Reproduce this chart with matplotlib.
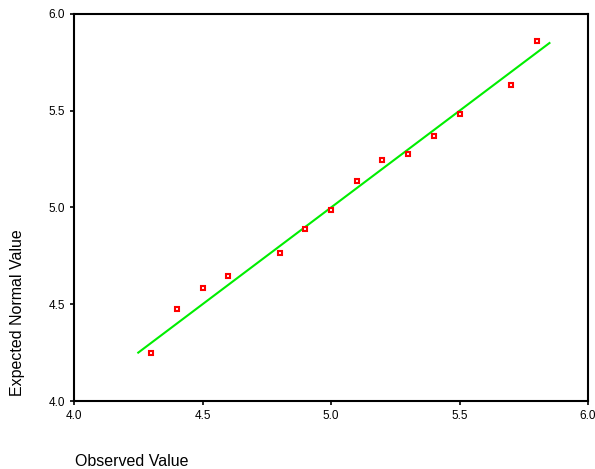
import matplotlib
matplotlib.use("Agg")
import matplotlib.pyplot as plt

observed = [4.3, 4.4, 4.5, 4.6, 4.8, 4.9, 5.0, 5.1, 5.2, 5.3, 5.4, 5.5, 5.7, 5.8]
expected = [4.248, 4.475, 4.586, 4.646, 4.765, 4.889, 4.987, 5.135, 5.245, 5.276, 5.367, 5.483, 5.633, 5.862]
line_x = [4.25, 5.85]
line_y = [4.25, 5.85]
xticks = [4.0, 4.5, 5.0, 5.5, 6.0]
yticks = [4.0, 4.5, 5.0, 5.5, 6.0]

plt.rcParams['font.family'] = ['Liberation Sans', 'DejaVu Sans']

fig = plt.figure(figsize=(5.95, 4.69), dpi=100)
ax = fig.add_axes([74/595, 1-401/469, (588-74)/595, (401-14)/469])

ax.plot(line_x, line_y, color='#00ee00', lw=1.5, zorder=2)
ax.plot(observed, expected, linestyle='none', marker='s', markersize=3.2,
        markerfacecolor='white', markeredgecolor='#ff0000', markeredgewidth=1.5, zorder=3)

ax.set_xlim(4.0, 6.0)
ax.set_ylim(4.0, 6.0)
ax.set_xticks(xticks)
ax.set_yticks(yticks)
ax.set_xticklabels([f"{v:.1f}" for v in xticks])
ax.set_yticklabels([f"{v:.1f}" for v in yticks])
ax.tick_params(direction='out', length=3, width=1.2, labelsize=8.5, colors='black', pad=3.5)
for s in ax.spines.values():
    s.set_linewidth(1.5)
    s.set_color('black')

fig.text(75/595, 1-461/469, "Observed Value", fontsize=11.5, ha='left', va='center')
fig.text(18/595, 1-313/469, "Expected Normal Value", fontsize=11.5, rotation=90, ha='center', va='center')

fig.savefig("out.png", dpi=100)
